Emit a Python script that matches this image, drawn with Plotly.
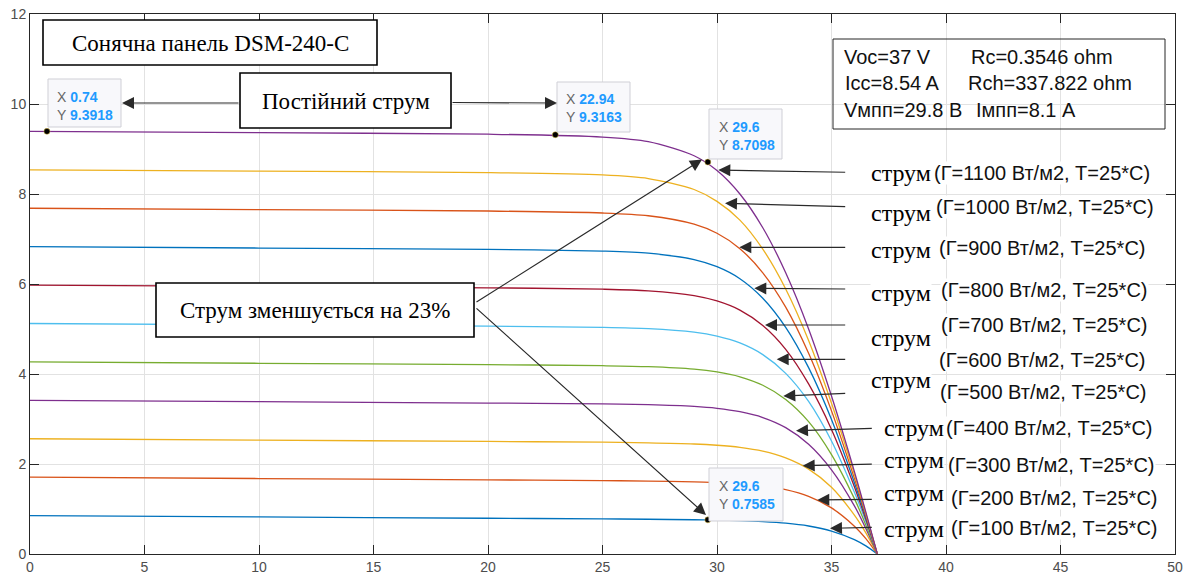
import plotly.graph_objects as go

# ---------------- data ----------------
V = [0, 10, 20, 25, 27, 29, 30, 31, 32, 33, 34, 35, 36, 36.5, 37]

I_1100 = [9.39, 9.362, 9.329, 9.266, 9.164, 8.85, 8.521, 8.0, 7.25, 6.25, 5.0, 3.51, 1.83, 0.93, 0]
I_1000 = [8.537, 8.507, 8.476, 8.424, 8.344, 8.10, 7.837, 7.42, 6.775, 5.89, 4.745, 3.35, 1.77, 0.9, 0]
I_900 = [7.683, 7.653, 7.622, 7.578, 7.517, 7.33, 7.127, 6.786, 6.249, 5.485, 4.46, 3.18, 1.68, 0.87, 0]
I_800 = [6.829, 6.799, 6.769, 6.731, 6.685, 6.543, 6.384, 6.118, 5.684, 5.037, 4.141, 2.988, 1.585, 0.827, 0]
I_700 = [5.976, 5.946, 5.916, 5.884, 5.848, 5.743, 5.623, 5.42, 5.077, 4.548, 3.779, 2.769, 1.496, 0.77, 0]
I_600 = [5.122, 5.092, 5.062, 5.035, 5.007, 4.93, 4.843, 4.69, 4.431, 4.014, 3.39, 2.511, 1.37, 0.72, 0]
I_500 = [4.268, 4.238, 4.208, 4.184, 4.163, 4.108, 4.046, 3.938, 3.749, 3.435, 2.942, 2.21, 1.23, 0.647, 0]
I_400 = [3.415, 3.385, 3.355, 3.335, 3.318, 3.279, 3.237, 3.162, 3.033, 2.808, 2.439, 1.871, 1.07, 0.566, 0]
I_300 = [2.561, 2.531, 2.501, 2.484, 2.47, 2.445, 2.417, 2.37, 2.286, 2.137, 1.887, 1.484, 0.864, 0.47, 0]
I_200 = [1.707, 1.677, 1.647, 1.631, 1.621, 1.604, 1.588, 1.561, 1.513, 1.429, 1.281, 1.025, 0.619, 0.342, 0]
I_100 = [0.854, 0.824, 0.794, 0.780, 0.772, 0.761, 0.753, 0.741, 0.72, 0.685, 0.622, 0.511, 0.32, 0.18, 0]

irradiance = [100, 200, 300, 400, 500, 600, 700, 800, 900, 1000, 1100]
currents = [I_100, I_200, I_300, I_400, I_500, I_600, I_700, I_800, I_900, I_1000, I_1100]

tip_x = [0.74, 22.94, 29.6, 29.6]
tip_y = [9.3918, 9.3163, 8.7098, 0.7585]

x_ticks = [0, 5, 10, 15, 20, 25, 30, 35, 40, 45, 50]
y_ticks = [0, 2, 4, 6, 8, 10, 12]

info_lines = [("Voc=37 V", "Rc=0.3546 ohm"),
              ("Icc=8.54 A", "Rch=337.822 ohm"),
              ("Vмпп=29.8 В", "Iмпп=8.1 A")]

# ---------------- styling ----------------
matlab = ['#0072BD', '#D95319', '#EDB120', '#7E2F8E', '#77AC30', '#4DBEEE', '#A2142F']
SANS = 'Liberation Sans, Arial, sans-serif'
SERIF = 'Liberation Serif, Times New Roman, serif'

W, H = 1192, 579          # browser window
L, T, PW, PH = 30, 14, 1145, 540   # plot area in window pixels
XMAX, YMAX = 50, 12


def X(px):
    return (px - L) / PW * XMAX


def Y(py):
    return (T + PH - py) / PH * YMAX


fig = go.Figure()
for k, (g, cur) in enumerate(zip(irradiance, currents)):
    fig.add_trace(go.Scatter(x=V, y=cur, mode='lines', name=f'{g}',
                             line=dict(color=matlab[k % 7], width=1.3, shape='spline', smoothing=0.8),
                             hoverinfo='skip', showlegend=False))

fig.add_trace(go.Scatter(x=tip_x, y=tip_y, mode='markers',
                         marker=dict(color='black', size=6, line=dict(color='#e0c040', width=0.5)),
                         showlegend=False, hoverinfo='skip'))

shapes = []
annotations = []


def box(x0, y0, x1, y1, fill='white', lw=1.6, color='black'):
    shapes.append(dict(type='rect', xref='x', yref='y', x0=X(x0), x1=X(x1), y0=Y(y0), y1=Y(y1),
                       fillcolor=fill, line=dict(color=color, width=lw), layer='above'))


def text(px, py, s, size, family, color='black', xanchor='left', bg=None):
    a = dict(xref='x', yref='y', x=X(px), y=Y(py), text=s, showarrow=False,
             xanchor=xanchor, yanchor='middle', font=dict(size=size, family=family, color=color))
    if bg:
        a['bgcolor'] = bg
        a['borderpad'] = 0
    annotations.append(a)


def arrow(x0, y0, x1, y1):
    annotations.append(dict(xref='x', yref='y', axref='x', ayref='y',
                            x=X(x1), y=Y(y1), ax=X(x0), ay=Y(y0), text='', showarrow=True,
                            arrowhead=2, arrowsize=2.0, arrowwidth=1.2, arrowcolor='#2a2a2a',
                            standoff=0, startstandoff=0))


# title box
box(43, 20, 377, 65)
text(210, 43, 'Сонячна панель DSM-240-C', 23, SERIF, xanchor='center')

# constant current box
box(240, 73, 451, 128)
text(345.5, 101, 'Постійний струм', 23, SERIF, xanchor='center')
arrow(240, 103, 122, 103)
arrow(451, 102.5, 557, 103)

# decrease box
box(156, 283, 474, 337)
text(315, 310, 'Струм зменшується на 23%', 23, SERIF, xanchor='center')
arrow(475, 303, 702, 159.5)
arrow(475, 307, 706, 515)

# info box
box(833, 39, 1165, 129, fill='rgba(0,0,0,0)', lw=1, color='#262626')
info_y = [56.7, 83.3, 110]
info_x1 = [841.5, 842.5, 841.5]
info_x2 = [969, 965.5, 974]
for (a, b), py, x1, x2 in zip(info_lines, info_y, info_x1, info_x2):
    text(x1, py, a, 20, SANS, color='#111')
    text(x2, py, b, 20, SANS, color='#111')

# data tips
tips = [((48, 79, 121, 127), 55, (96.7, 115)),
        ((557, 82, 630, 132), 563.5, (99.3, 117.3)),
        ((709, 109, 782, 159), 716.5, (126.7, 145)),
        ((709, 468, 783, 521), 716.5, (486, 504))]
for (bx, xl, (ly1, ly2)), tx, ty in zip(tips, tip_x, tip_y):
    box(*bx, fill='#f8f8fb', lw=1, color='#cfcfd6')
    text(xl, ly1, f"<span style='color:#666'>X</span> <b><span style='color:#1f9bff'>{tx:g}</span></b>", 14, SANS)
    text(xl, ly2, f"<span style='color:#666'>Y</span> <b><span style='color:#1f9bff'>{ty:g}</span></b>", 14, SANS)

# right side labels
rows = {
    1100: ((870, 173), (933, 173), (846.7, 172.3, 718.3, 170)),
    1000: ((870, 213), (935, 207), (846.7, 206.7, 725, 203.3)),
    900: ((870, 250), (938, 248), (846.7, 247.3, 739.3, 247.3)),
    800: ((870, 293), (940, 290), (846.7, 289, 754.3, 288.3)),
    700: ((870, 338), (940, 325), (846.7, 325, 765, 325)),
    600: (None, (938, 360), (846.7, 359.3, 776.7, 359.3)),
    500: ((870, 380), (939, 392), (846.7, 393.3, 783.3, 396)),
    400: ((883, 428), (945, 428), (873.3, 428.3, 796, 430.7)),
    300: ((883, 460), (947, 465), (873.3, 464, 802.7, 465.7)),
    200: ((883, 493), (950, 498), (873.3, 499.3, 817.3, 500)),
    100: ((883, 529), (950, 528), (873.3, 527.3, 830, 528.3)),
}
for g in irradiance:
    s_pos, p_pos, ar = rows[g]
    arrow(*ar)
    if s_pos:
        text(s_pos[0], s_pos[1], 'струм', 24, SERIF, bg='white')
    text(p_pos[0], p_pos[1], f'(Г={g} Вт/м2, T=25*C)', 20, SANS, color='#111', bg='white')

axis_common = dict(showgrid=True, gridcolor='#e2e2e2', gridwidth=1, zeroline=False,
                   showline=True, linecolor='#262626', linewidth=1, mirror='ticks',
                   ticks='inside', ticklen=9, tickcolor='#262626', tickwidth=1,
                   automargin=False, ticklabeloverflow='allow',
                   tickfont=dict(size=14, family=SANS, color='#4d4d4d'))

fig.update_layout(
    width=W, height=H,
    margin=dict(l=L, r=W - L - PW, t=T, b=H - T - PH, pad=0, autoexpand=False),
    paper_bgcolor='white', plot_bgcolor='white',
    xaxis=dict(range=[0, XMAX], tickvals=x_ticks, **axis_common),
    yaxis=dict(range=[0, YMAX], tickvals=y_ticks, **axis_common),
    shapes=shapes, annotations=annotations,
)

fig.write_html('out.html', config={'displayModeBar': False},
               post_script="document.body.style.margin='0';document.body.style.overflow='hidden';")
